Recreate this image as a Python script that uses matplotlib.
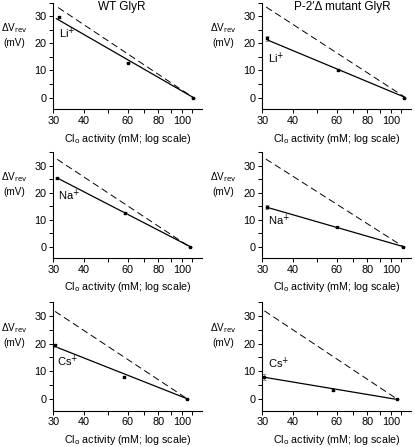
import matplotlib
matplotlib.use("Agg")
import matplotlib.pyplot as plt
from matplotlib.ticker import FixedLocator, FixedFormatter, NullFormatter, NullLocator

plt.rcParams['font.family'] = ['Liberation Sans', 'DejaVu Sans']

# ---------------- data ----------------
titles = ["WT GlyR", "P-2\u2032\u0394 mutant GlyR"]
ions = ["Li", "Na", "Cs"]

# Measured points: Cl activity (mM) and dVrev (mV) per panel (row, col)
wt_li_x = [31.5, 60.0, 111.0]
wt_li_y = [29.8, 12.9, 0.0]
mut_li_x = [31.2, 60.6, 113.0]
mut_li_y = [21.8, 10.2, 0.0]
wt_na_x = [31.1, 58.8, 107.7]
wt_na_y = [25.4, 12.5, 0.0]
mut_na_x = [31.2, 60.4, 112.0]
mut_na_y = [14.7, 7.2, 0.0]
wt_cs_x = [30.5, 58.0, 105.0]
wt_cs_y = [19.3, 7.8, 0.0]
mut_cs_x = [30.6, 57.8, 105.5]
mut_cs_y = [8.0, 3.2, 0.0]

# small error bars (mV)
wt_li_err = [0.3, 0.3, 0.0]
mut_li_err = [0.8, 0.3, 0.0]
wt_na_err = [0.3, 0.4, 0.0]
mut_na_err = [0.6, 0.3, 0.0]
wt_cs_err = [0.7, 0.3, 0.0]
mut_cs_err = [1.0, 0.4, 0.0]

# Fitted (solid) line endpoints: x0, x1, y0, y1
wt_li_fit = [30.9, 111.0, 29.1, 0.0]
mut_li_fit = [31.2, 113.0, 21.4, 0.2]
wt_na_fit = [31.1, 107.7, 25.4, 0.0]
mut_na_fit = [31.2, 112.0, 14.6, 0.0]
wt_cs_fit = [30.5, 105.0, 18.9, 0.0]
mut_cs_fit = [30.6, 105.5, 7.8, -0.2]

# Nernstian (dashed) line endpoints: x0, x1, y0, y1
wt_li_nernst = [31.4, 110.0, 33.2, 0.2]
mut_li_nernst = [31.1, 113.0, 33.4, 0.3]
wt_na_nernst = [31.1, 106.0, 32.3, 0.2]
mut_na_nernst = [31.0, 111.0, 32.4, 0.2]
wt_cs_nernst = [30.5, 104.0, 31.6, 0.2]
mut_cs_nernst = [30.6, 104.5, 31.8, 0.2]

# label positions (x, y) for ion labels
wt_li_lab = [31.6, 23.7]
mut_li_lab = [31.6, 14.5]
wt_na_lab = [31.4, 19.0]
mut_na_lab = [31.6, 9.9]
wt_cs_lab = [31.0, 13.4]
mut_cs_lab = [31.6, 12.8]

x_ticks = [30, 40, 50, 60, 70, 80, 90, 100, 110]
x_tick_labels = ["30", "40", "", "60", "", "80", "", "100", ""]
y_ticks = [0, 10, 20, 30]
y_minor = [5, 15, 25, 35]

panels = [
    [(wt_li_x, wt_li_y, wt_li_err, wt_li_fit, wt_li_nernst, wt_li_lab, "Li"),
     (mut_li_x, mut_li_y, mut_li_err, mut_li_fit, mut_li_nernst, mut_li_lab, "Li")],
    [(wt_na_x, wt_na_y, wt_na_err, wt_na_fit, wt_na_nernst, wt_na_lab, "Na"),
     (mut_na_x, mut_na_y, mut_na_err, mut_na_fit, mut_na_nernst, mut_na_lab, "Na")],
    [(wt_cs_x, wt_cs_y, wt_cs_err, wt_cs_fit, wt_cs_nernst, wt_cs_lab, "Cs"),
     (mut_cs_x, mut_cs_y, mut_cs_err, mut_cs_fit, mut_cs_nernst, mut_cs_lab, "Cs")],
]

# ---------------- layout ----------------
W, H = 415, 447
fig = plt.figure(figsize=(W / 100, H / 100), dpi=100)

lefts = [53.3, 262.3]
width_px = 148.5
row_tops = [2.7, 152.0, 302.0]
row_bottoms = [109.0, 258.0, 410.5]

fs = 7.2
for r in range(3):
    for c in range(2):
        x, y, err, fit, nern, lab, ion = panels[r][c]
        ax = fig.add_axes([lefts[c] / W, 1 - row_bottoms[r] / H,
                           width_px / W, (row_bottoms[r] - row_tops[r]) / H])
        ax.set_xscale('log')
        ax.set_xlim(30, 120)
        ax.set_ylim(-4.2, 35)
        ax.plot(nern[:2], nern[2:], color='black', lw=0.7, ls=(0, (7, 4)))
        ax.plot(fit[:2], fit[2:], color='black', lw=0.9)
        ax.errorbar(x, y, yerr=err, fmt='s', ms=2.1, color='black',
                    ecolor='#888888', elinewidth=0.6, capsize=1.2, capthick=0.6)
        ax.text(lab[0], lab[1], ion + "$^{+}$", fontsize=fs + 0.8,
                ha='left', va='center')
        for s in ['top', 'right']:
            ax.spines[s].set_visible(False)
        for s in ['left', 'bottom']:
            ax.spines[s].set_linewidth(0.8)
        ax.xaxis.set_major_locator(FixedLocator(x_ticks))
        ax.xaxis.set_major_formatter(FixedFormatter(x_tick_labels))
        ax.xaxis.set_minor_locator(NullLocator())
        ax.xaxis.set_minor_formatter(NullFormatter())
        ax.yaxis.set_major_locator(FixedLocator(y_ticks))
        ax.yaxis.set_minor_locator(FixedLocator(y_minor))
        ax.tick_params(which='both', direction='out', length=3, width=0.7,
                       labelsize=fs + 0.6, pad=2)
        ax.tick_params(axis='x', pad=2)
        ax.set_xlabel("Cl$_{\\mathrm{o}}$ activity (mM; log scale)",
                      fontsize=fs + 0.5, labelpad=4)
        ax.text(-0.265, 0.70, "\u0394V$_{\\mathrm{rev}}$\n(mV)", transform=ax.transAxes,
                fontsize=fs, ha='center', va='center', linespacing=1.3)
        if r == 0:
            ax.text([0.463, 0.54][c], 0.96, titles[c], transform=ax.transAxes,
                    fontsize=fs + 1.3, ha='center', va='center')

fig.savefig("out.png", dpi=100)
